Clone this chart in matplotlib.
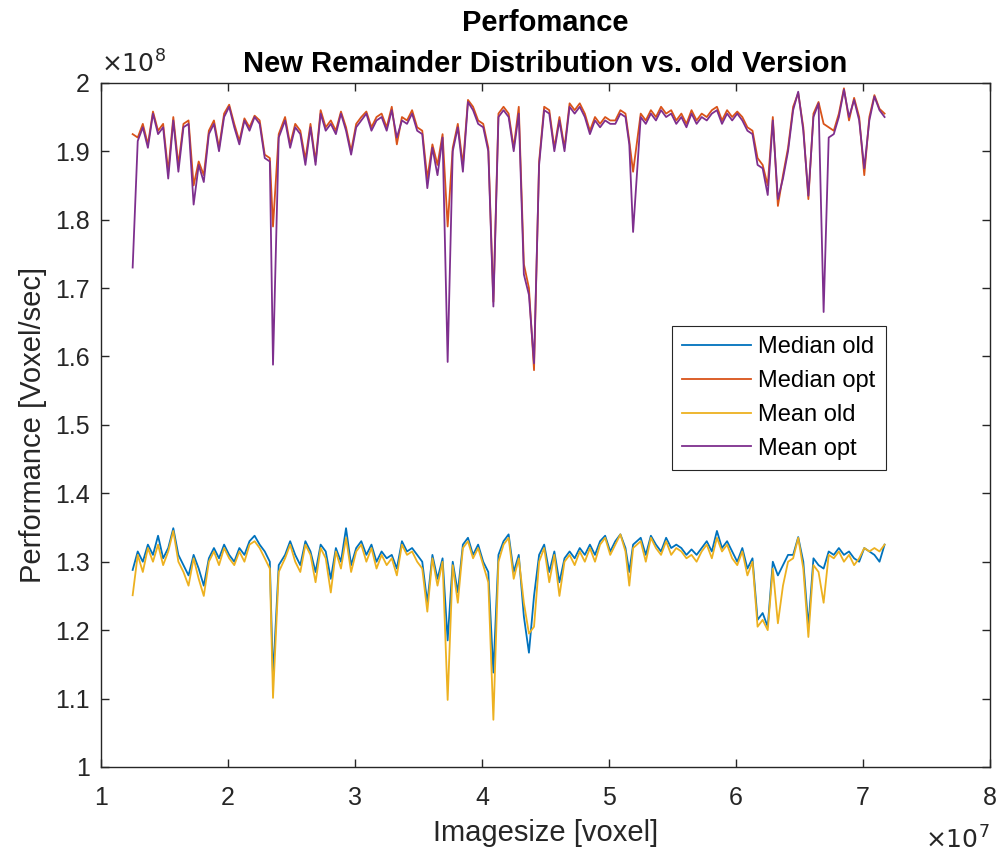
import numpy as np
import matplotlib
matplotlib.use("Agg")
import matplotlib.pyplot as plt
from matplotlib.ticker import FuncFormatter, MultipleLocator

plt.rcParams['font.family'] = ['Liberation Sans', 'DejaVu Sans']

# Image size in units of 1e7 voxel
imagesize = [
    1.25, 1.29, 1.33, 1.37, 1.41, 1.45, 1.49, 1.53, 1.57, 1.61,
    1.65, 1.69, 1.73, 1.77, 1.81, 1.85, 1.89, 1.93, 1.97, 2.01,
    2.05, 2.09, 2.13, 2.17, 2.21, 2.25, 2.29, 2.33, 2.355, 2.40,
    2.45, 2.49, 2.53, 2.57, 2.61, 2.65, 2.69, 2.73, 2.77, 2.81,
    2.85, 2.89, 2.93, 2.97, 3.01, 3.05, 3.09, 3.13, 3.17, 3.21,
    3.25, 3.29, 3.33, 3.37, 3.41, 3.45, 3.49, 3.53, 3.57, 3.61,
    3.65, 3.69, 3.73, 3.77, 3.81, 3.85, 3.89, 3.93, 3.97, 4.01,
    4.05, 4.09, 4.13, 4.17, 4.21, 4.25, 4.29, 4.33, 4.37, 4.41,
    4.45, 4.49, 4.53, 4.57, 4.61, 4.65, 4.69, 4.73, 4.77, 4.81,
    4.85, 4.89, 4.93, 4.97, 5.01, 5.05, 5.09, 5.13, 5.16, 5.19,
    5.25, 5.29, 5.33, 5.37, 5.41, 5.45, 5.49, 5.53, 5.57, 5.61,
    5.65, 5.69, 5.73, 5.77, 5.81, 5.85, 5.89, 5.93, 5.97, 6.01,
    6.05, 6.09, 6.13, 6.17, 6.21, 6.25, 6.29, 6.33, 6.37, 6.41,
    6.45, 6.49, 6.53, 6.57, 6.61, 6.65, 6.69, 6.73, 6.77, 6.81,
    6.85, 6.89, 6.93, 6.97, 7.01, 7.05, 7.09, 7.13, 7.17,
]

# Performance in units of 1e8 voxel/sec
median_old = [
    1.288, 1.315, 1.300, 1.325, 1.310, 1.338, 1.305, 1.320, 1.349, 1.310,
    1.295, 1.280, 1.310, 1.290, 1.265, 1.305, 1.320, 1.305, 1.325, 1.310,
    1.300, 1.320, 1.310, 1.330, 1.338, 1.325, 1.315, 1.300, 1.130, 1.295,
    1.310, 1.330, 1.310, 1.295, 1.330, 1.315, 1.285, 1.325, 1.315, 1.275,
    1.320, 1.300, 1.349, 1.295, 1.320, 1.330, 1.310, 1.325, 1.300, 1.315,
    1.305, 1.310, 1.290, 1.330, 1.315, 1.320, 1.310, 1.300, 1.240, 1.310,
    1.275, 1.305, 1.185, 1.300, 1.255, 1.325, 1.335, 1.310, 1.325, 1.300,
    1.285, 1.138, 1.310, 1.330, 1.340, 1.285, 1.310, 1.220, 1.167, 1.250,
    1.310, 1.325, 1.285, 1.315, 1.270, 1.305, 1.315, 1.305, 1.320, 1.310,
    1.325, 1.310, 1.330, 1.338, 1.315, 1.330, 1.340, 1.320, 1.285, 1.325,
    1.335, 1.310, 1.338, 1.325, 1.315, 1.335, 1.320, 1.325, 1.320, 1.310,
    1.318, 1.310, 1.320, 1.330, 1.315, 1.345, 1.320, 1.330, 1.315, 1.300,
    1.320, 1.290, 1.305, 1.215, 1.225, 1.205, 1.300, 1.280, 1.295, 1.310,
    1.310, 1.336, 1.300, 1.205, 1.305, 1.295, 1.290, 1.315, 1.310, 1.320,
    1.310, 1.315, 1.305, 1.300, 1.320, 1.315, 1.310, 1.300, 1.325,
]

median_opt = [
    1.925, 1.920, 1.940, 1.910, 1.958, 1.930, 1.940, 1.870, 1.950, 1.880,
    1.940, 1.945, 1.850, 1.885, 1.865, 1.930, 1.945, 1.905, 1.955, 1.968,
    1.940, 1.915, 1.948, 1.935, 1.952, 1.945, 1.895, 1.890, 1.790, 1.925,
    1.950, 1.910, 1.940, 1.930, 1.888, 1.940, 1.885, 1.960, 1.935, 1.945,
    1.930, 1.958, 1.935, 1.900, 1.940, 1.950, 1.958, 1.935, 1.950, 1.955,
    1.935, 1.965, 1.910, 1.950, 1.945, 1.960, 1.935, 1.930, 1.860, 1.910,
    1.880, 1.925, 1.790, 1.905, 1.940, 1.880, 1.975, 1.965, 1.945, 1.940,
    1.905, 1.680, 1.955, 1.965, 1.955, 1.905, 1.965, 1.735, 1.700, 1.580,
    1.885, 1.965, 1.960, 1.905, 1.950, 1.905, 1.970, 1.960, 1.970, 1.955,
    1.930, 1.950, 1.940, 1.950, 1.945, 1.945, 1.960, 1.955, 1.915, 1.870,
    1.955, 1.945, 1.960, 1.950, 1.965, 1.955, 1.960, 1.945, 1.955, 1.940,
    1.960, 1.945, 1.955, 1.950, 1.960, 1.965, 1.945, 1.960, 1.950, 1.958,
    1.950, 1.935, 1.930, 1.890, 1.880, 1.850, 1.950, 1.820, 1.865, 1.905,
    1.965, 1.985, 1.935, 1.830, 1.955, 1.972, 1.940, 1.935, 1.930, 1.955,
    1.992, 1.945, 1.978, 1.950, 1.865, 1.950, 1.982, 1.962, 1.955,
]

mean_old = [
    1.251, 1.310, 1.285, 1.320, 1.300, 1.325, 1.295, 1.315, 1.345, 1.300,
    1.285, 1.265, 1.305, 1.275, 1.250, 1.300, 1.315, 1.295, 1.320, 1.305,
    1.295, 1.315, 1.300, 1.325, 1.330, 1.320, 1.305, 1.290, 1.101, 1.285,
    1.305, 1.325, 1.300, 1.285, 1.325, 1.310, 1.270, 1.320, 1.305, 1.255,
    1.315, 1.290, 1.335, 1.285, 1.315, 1.325, 1.300, 1.320, 1.290, 1.310,
    1.295, 1.305, 1.280, 1.325, 1.310, 1.315, 1.300, 1.290, 1.227, 1.305,
    1.265, 1.300, 1.098, 1.295, 1.240, 1.320, 1.330, 1.305, 1.320, 1.295,
    1.270, 1.069, 1.300, 1.325, 1.335, 1.275, 1.305, 1.240, 1.195, 1.205,
    1.300, 1.320, 1.270, 1.310, 1.250, 1.300, 1.310, 1.295, 1.315, 1.300,
    1.320, 1.300, 1.325, 1.335, 1.310, 1.325, 1.340, 1.315, 1.265, 1.320,
    1.330, 1.300, 1.335, 1.320, 1.310, 1.330, 1.310, 1.320, 1.315, 1.305,
    1.310, 1.300, 1.315, 1.325, 1.305, 1.335, 1.315, 1.325, 1.305, 1.295,
    1.315, 1.280, 1.300, 1.205, 1.215, 1.200, 1.290, 1.210, 1.265, 1.300,
    1.305, 1.335, 1.290, 1.190, 1.295, 1.285, 1.240, 1.310, 1.305, 1.315,
    1.300, 1.310, 1.295, 1.305, 1.320, 1.315, 1.320, 1.315, 1.325,
]

mean_opt = [
    1.730, 1.915, 1.935, 1.905, 1.955, 1.925, 1.935, 1.860, 1.945, 1.870,
    1.935, 1.940, 1.822, 1.880, 1.855, 1.925, 1.940, 1.900, 1.950, 1.965,
    1.935, 1.910, 1.945, 1.930, 1.950, 1.940, 1.890, 1.885, 1.588, 1.920,
    1.945, 1.905, 1.935, 1.925, 1.880, 1.935, 1.880, 1.955, 1.930, 1.940,
    1.925, 1.955, 1.930, 1.895, 1.935, 1.945, 1.955, 1.930, 1.945, 1.950,
    1.930, 1.960, 1.920, 1.945, 1.940, 1.955, 1.930, 1.925, 1.846, 1.905,
    1.865, 1.920, 1.592, 1.900, 1.935, 1.870, 1.972, 1.960, 1.940, 1.935,
    1.900, 1.673, 1.950, 1.960, 1.950, 1.900, 1.955, 1.720, 1.690, 1.590,
    1.880, 1.960, 1.955, 1.900, 1.945, 1.900, 1.965, 1.955, 1.965, 1.950,
    1.925, 1.945, 1.935, 1.945, 1.940, 1.940, 1.955, 1.950, 1.910, 1.782,
    1.950, 1.940, 1.955, 1.945, 1.960, 1.950, 1.955, 1.940, 1.950, 1.935,
    1.955, 1.940, 1.950, 1.945, 1.955, 1.960, 1.940, 1.955, 1.945, 1.955,
    1.945, 1.930, 1.925, 1.880, 1.875, 1.836, 1.945, 1.830, 1.860, 1.900,
    1.960, 1.987, 1.930, 1.835, 1.950, 1.970, 1.665, 1.920, 1.925, 1.950,
    1.990, 1.950, 1.975, 1.945, 1.875, 1.945, 1.980, 1.960, 1.950,
]

series_labels = ["Median old", "Median opt", "Mean old", "Mean opt"]
series_colors = ["#0072BD", "#D95319", "#EDB120", "#7E2F8E"]

X_SCALE = 1e7
Y_SCALE = 1e8

fig = plt.figure(figsize=(9.99, 8.52), dpi=100)
ax = fig.add_axes([0.101, 0.0998, 0.890, 0.803])

xs = np.array(imagesize) * X_SCALE
for vals, lab, col in zip([median_old, median_opt, mean_old, mean_opt],
                          series_labels, series_colors):
    ax.plot(xs, np.array(vals) * Y_SCALE, color=col, lw=1.3, label=lab)

ax.set_xlim(1 * X_SCALE, 8 * X_SCALE)
ax.set_ylim(1 * Y_SCALE, 2 * Y_SCALE)
ax.xaxis.set_major_locator(MultipleLocator(X_SCALE))
ax.yaxis.set_major_locator(MultipleLocator(0.1 * Y_SCALE))
ax.xaxis.set_major_formatter(FuncFormatter(lambda v, p: f"{v / X_SCALE:g}"))
ax.yaxis.set_major_formatter(FuncFormatter(lambda v, p: f"{round(v / Y_SCALE, 2):g}"))

edge = "#262626"
for s in ax.spines.values():
    s.set_color(edge)
    s.set_linewidth(1.0)
ax.tick_params(direction="in", top=True, right=True, length=6, width=1.0,
               color=edge, labelcolor=edge, labelsize=18)
ax.tick_params(axis="x", pad=14)
ax.tick_params(axis="y", pad=8)

ax.set_xlabel("Imagesize [voxel]", fontsize=21, color=edge, labelpad=6)
ax.set_ylabel("Performance [Voxel/sec]", fontsize=21, color=edge, labelpad=6)
ax.set_title("Perfomance\nNew Remainder Distribution vs. old Version",
             fontsize=21, fontweight="bold", color="black", pad=8,
             linespacing=1.6)

ax.text(0.0, 1.008, r"$\times10^{8}$", transform=ax.transAxes,
        fontsize=18, color=edge, ha="left", va="bottom")
ax.text(1.0, -0.087, r"$\times10^{7}$", transform=ax.transAxes,
        fontsize=18, color=edge, ha="right", va="top")

leg = ax.legend(loc="upper left", bbox_to_anchor=(0.642, 0.645),
                fontsize=17, frameon=True, fancybox=False, framealpha=1,
                handlelength=2.9, handletextpad=0.3, labelspacing=0.5,
                borderpad=0.45, borderaxespad=0.0)
leg.get_frame().set_edgecolor(edge)
leg.get_frame().set_linewidth(0.8)

fig.savefig("out.png", dpi=100)
